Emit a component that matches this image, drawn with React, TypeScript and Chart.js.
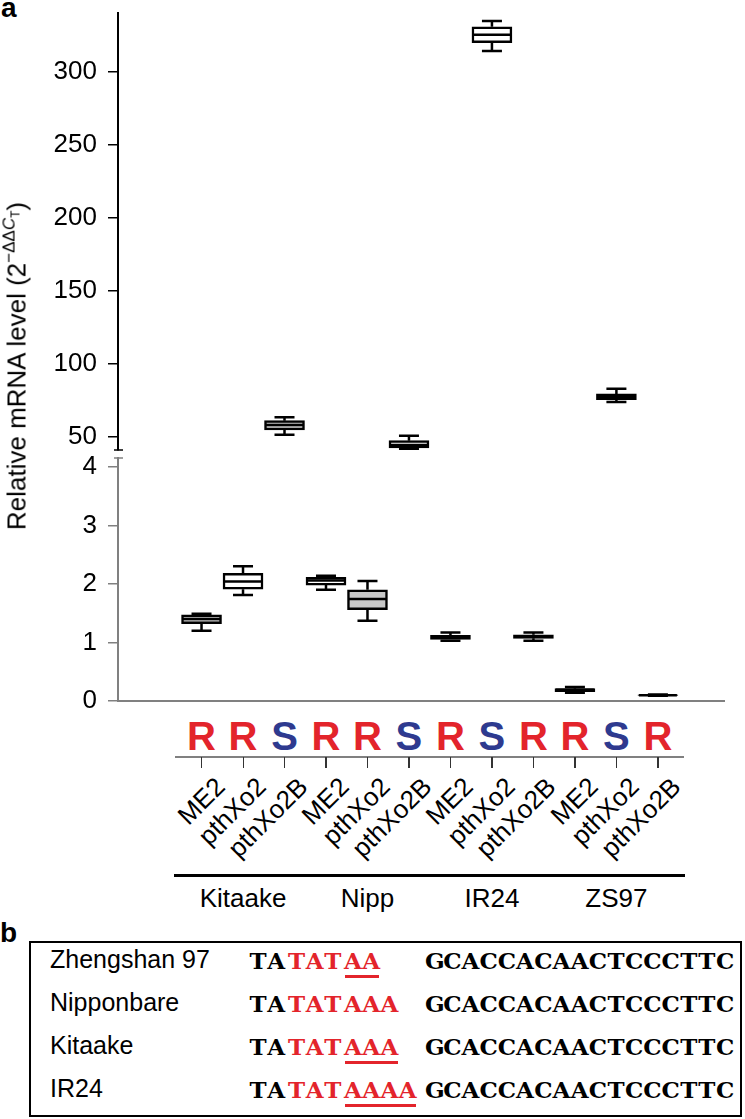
import React, { useEffect, useRef, useState } from "react";
import { Chart, registerables } from "chart.js";

Chart.register(...registerables);

const FONT = '"Liberation Sans", Arial, Helvetica, sans-serif';
const SEQ_FONT = '"DejaVu Serif", "Liberation Serif", serif';

// ---------- data ----------
const cultivars = ["Kitaake", "Nipp", "IR24", "ZS97"];
const categories = [
  "ME2", "pthXo2", "pthXo2B",
  "ME2", "pthXo2", "pthXo2B",
  "ME2", "pthXo2", "pthXo2B",
  "ME2", "pthXo2", "pthXo2B",
];
const phenotype = ["R", "R", "S", "R", "R", "S", "R", "S", "R", "R", "S", "R"];
const whiskerLow = [1.2, 1.81, 51.6, 1.9, 1.37, 41.8, 1.03, 314.4, 1.03, 0.14, 74.0, 0.09];
const q1 = [1.32, 1.91, 54.8, 1.98, 1.56, 42.6, 1.05, 320.0, 1.07, 0.16, 75.5, 0.095];
const median = [1.4, 2.04, 58.2, 2.06, 1.74, 44.5, 1.09, 325.5, 1.1, 0.19, 77.5, 0.1];
const q3 = [1.47, 2.18, 61.2, 2.11, 1.9, 47.5, 1.12, 331.0, 1.13, 0.21, 79.5, 0.105];
const whiskerHigh = [1.49, 2.3, 63.5, 2.14, 2.05, 50.8, 1.17, 335.0, 1.17, 0.24, 83.0, 0.11];
const boxFill = [
  "#c8c8c8", "#ffffff", "#c8c8c8",
  "#ffffff", "#c8c8c8", "#ffffff",
  "#ffffff", "#ffffff", "#ffffff",
  "#ffffff", "#ffffff", "#ffffff",
];
const upperTicks = [50, 100, 150, 200, 250, 300];
const lowerTicks = [0, 1, 2, 3, 4];
const upperRange = [41.1, 340.4];
const lowerRange = [0, 4.15];
const breakValue = 10;

const seqNames = ["Zhengshan 97", "Nipponbare", "Kitaake", "IR24"];
const seqLead = ["TA", "TA", "TA", "TA"];
const seqTata = ["TAT", "TAT", "TAT", "TAT"];
const seqAs = ["AA", "AAA", "AAA", "AAAA"];
const seqUnderlined = [true, false, true, true];
const seqTail = ["GCACCACAACTCCCTTC", "GCACCACAACTCCCTTC", "GCACCACAACTCCCTTC", "GCACCACAACTCCCTTC"];

const RED = "#e3242b";
const BLUE = "#2e3a8f";
const X_MIN = -0.97;
const X_MAX = 11.55;
const CELL = 18.2;

// ---------- plugins ----------
const boxPlugin = {
  id: "boxWhiskers",
  beforeDatasetsDraw(chart: any) {
    const { ctx, scales } = chart;
    const x = scales.x, y = scales.y;
    const pts = chart.data.datasets[0].data as any[];
    ctx.save();
    ctx.beginPath();
    ctx.rect(chart.chartArea.left, chart.chartArea.top, chart.chartArea.right - chart.chartArea.left, chart.chartArea.bottom - chart.chartArea.top);
    ctx.clip();
    ctx.strokeStyle = "#000";
    ctx.lineWidth = 2.5;
    pts.forEach((p) => {
      const i = p.x;
      const px = x.getPixelForValue(i);
      const yHi = y.getPixelForValue(whiskerHigh[i]);
      const yQ3 = y.getPixelForValue(q3[i]);
      const yLo = y.getPixelForValue(whiskerLow[i]);
      const yQ1 = y.getPixelForValue(q1[i]);
      ctx.beginPath();
      ctx.moveTo(px, yQ3); ctx.lineTo(px, yHi);
      ctx.moveTo(px - 10, yHi); ctx.lineTo(px + 10, yHi);
      ctx.moveTo(px, yQ1); ctx.lineTo(px, yLo);
      ctx.moveTo(px - 10, yLo); ctx.lineTo(px + 10, yLo);
      ctx.stroke();
    });
    ctx.restore();
  },
  afterDatasetsDraw(chart: any) {
    const { ctx, scales } = chart;
    const x = scales.x, y = scales.y;
    const pts = chart.data.datasets[0].data as any[];
    ctx.save();
    ctx.strokeStyle = "#000";
    ctx.lineWidth = 2.5;
    pts.forEach((p) => {
      const i = p.x;
      const px = x.getPixelForValue(i);
      const ym = y.getPixelForValue(median[i]);
      ctx.beginPath();
      ctx.moveTo(px - 19, ym); ctx.lineTo(px + 19, ym);
      ctx.stroke();
    });
    const opt = chart.options.plugins.breakMark;
    if (opt) {
      const yy = opt.at === "bottom" ? chart.chartArea.bottom : chart.chartArea.top;
      ctx.strokeStyle = opt.color;
      ctx.lineWidth = 1.5;
      ctx.beginPath();
      ctx.moveTo(chart.chartArea.left - 4, yy);
      ctx.lineTo(chart.chartArea.left + 5, yy);
      ctx.stroke();
    }
    ctx.restore();
  },
};

function makeChart(
  canvas: HTMLCanvasElement,
  idxs: number[],
  range: number[],
  ticks: number[],
  axisColor: string,
  padding: any,
  showX: boolean,
  breakAt: string
) {
  return new Chart(canvas, {
    type: "bar",
    data: {
      datasets: [
        {
          data: idxs.map((i) => ({ x: i, y: [q1[i], q3[i]] })) as any,
          backgroundColor: idxs.map((i) => boxFill[i]),
          borderColor: "#000",
          borderWidth: 2.5,
          borderSkipped: false,
          barThickness: 40,
        } as any,
      ],
    },
    options: {
      responsive: false,
      animation: false,
      layout: { padding },
      events: [],
      plugins: {
        legend: { display: false },
        tooltip: { enabled: false },
        breakMark: { at: breakAt, color: axisColor },
      } as any,
      scales: {
        x: {
          type: "linear",
          min: X_MIN,
          max: X_MAX,
          display: showX,
          grid: { display: false },
          ticks: { display: false },
          border: { display: showX, color: axisColor, width: 2 },
          afterFit: (s: any) => {
            s.height = 0;
            s.paddingLeft = 0;
            s.paddingRight = 0;
          },
        },
        y: {
          type: "linear",
          min: range[0],
          max: range[1],
          afterBuildTicks: (s: any) => {
            s.ticks = ticks.map((v) => ({ value: v }));
          },
          afterFit: (s: any) => {
            s.width = 118;
            s.paddingTop = 0;
            s.paddingBottom = 0;
          },
          ticks: {
            color: "#000",
            font: { family: FONT, size: 26 },
            padding: 11,
            callback: (v: any) => String(v),
          },
          grid: {
            display: true,
            drawOnChartArea: false,
            drawTicks: true,
            tickLength: 10,
            color: axisColor,
            lineWidth: 1.5,
          },
          border: { display: true, color: axisColor, width: 2 },
        },
      },
    } as any,
    plugins: [boxPlugin as any],
  });
}

function topFor(baseline: number, size: number) {
  return baseline - 0.8465 * size;
}

function Cells({ text, color, underline }: { text: string; color: string; underline?: boolean }) {
  return (
    <span style={{ display: "inline-block", position: "relative", color }}>
      {text.split("").map((ch, k) => (
        <span key={k} style={{ display: "inline-block", width: CELL, textAlign: "center" }}>{ch}</span>
      ))}
      {underline && (
        <span style={{ position: "absolute", left: 1, right: 1, bottom: -6, height: 3, background: color }} />
      )}
    </span>
  );
}

export default function App() {
  const topRef = useRef<HTMLCanvasElement>(null);
  const botRef = useRef<HTMLCanvasElement>(null);
  const [xs, setXs] = useState<number[] | null>(null);

  useEffect(() => {
    const all = categories.map((_, i) => i);
    const upper = all.filter((i) => median[i] > breakValue);
    const lower = all.filter((i) => median[i] <= breakValue);
    const top = makeChart(topRef.current!, upper, upperRange, upperTicks, "#000", { top: 13, right: 21, bottom: 10, left: 0 }, false, "bottom");
    const bot = makeChart(botRef.current!, lower, lowerRange, lowerTicks, "#808080", { top: 8, right: 21, bottom: 11, left: 0 }, true, "top");
    setXs(all.map((i) => bot.scales.x.getPixelForValue(i)));
    return () => {
      top.destroy();
      bot.destroy();
    };
  }, []);

  const groupCenters = xs ? cultivars.map((_, g) => xs[g * 3 + 1]) : [];

  return (
    <div style={{ position: "absolute", left: 0, top: 0, width: 745, height: 1119, fontFamily: FONT, color: "#000", background: "#fff", overflow: "hidden" }}>
      <div style={{ position: "absolute", left: 1, top: topFor(18, 28), fontSize: 28, lineHeight: "28px", fontWeight: "bold" }}>a</div>
      <canvas ref={topRef} width={745} height={460} style={{ position: "absolute", left: 0, top: 0 }} />
      <canvas ref={botRef} width={745} height={262} style={{ position: "absolute", left: 0, top: 450 }} />

      <div style={{ position: "absolute", left: 19, top: 366, width: 0, height: 0 }}>
        <div style={{ position: "absolute", left: 0, top: 0, whiteSpace: "nowrap", fontSize: 26, lineHeight: "30px", transform: "translate(-50%, -50%) rotate(-90deg)" }}>
          Relative mRNA level (2
          <span style={{ fontSize: 17, position: "relative", top: -11 }}>
            −ΔΔ<i>C</i>
            <span style={{ fontSize: 12, position: "relative", top: 5 }}>T</span>
          </span>
          )
        </div>
      </div>

      {xs && (
        <>
          {phenotype.map((p, i) => (
            <div key={"p" + i} style={{ position: "absolute", left: xs[i] - 30, width: 60, textAlign: "center", top: topFor(750, 40), fontSize: 40, lineHeight: "40px", fontWeight: "bold", color: p === "R" ? RED : BLUE }}>
              {p}
            </div>
          ))}
          {cultivars.map((c, g) => (
            <div key={"gl" + g} style={{ position: "absolute", left: groupCenters[g] - 68, width: 136, top: 756, height: 2, background: "#808080" }} />
          ))}
          {categories.map((_, i) => (
            <div key={"t" + i} style={{ position: "absolute", left: xs[i] - 0.5, width: 1.2, top: 757, height: 11, background: "#333" }} />
          ))}
          {categories.map((c, i) => (
            <div key={"c" + i} style={{ position: "absolute", left: xs[i] + 18 - 200, width: 200, top: 782 - 15, height: 30, lineHeight: "30px", fontSize: 26, textAlign: "right", whiteSpace: "nowrap", transformOrigin: "100% 50%", transform: "rotate(-45deg)" }}>
              {c}
            </div>
          ))}
          {cultivars.map((c, g) => (
            <div key={"bl" + g} style={{ position: "absolute", left: groupCenters[g] - 69, width: 138, top: 874, height: 3, background: "#000" }} />
          ))}
          {cultivars.map((c, g) => (
            <div key={"gn" + g} style={{ position: "absolute", left: groupCenters[g] - 80, width: 160, textAlign: "center", top: topFor(907, 26), fontSize: 26, lineHeight: "26px" }}>
              {c}
            </div>
          ))}
        </>
      )}

      <div style={{ position: "absolute", left: 0, top: topFor(943, 28), fontSize: 28, lineHeight: "28px", fontWeight: "bold" }}>b</div>
      <div style={{ position: "absolute", left: 29, top: 941, width: 713, height: 176, border: "2px solid #000", boxSizing: "border-box" }} />
      {seqNames.map((n, r) => {
        const base = 968 + r * 43;
        const seqTop = base - 0.846 * 23;
        return (
          <React.Fragment key={"s" + r}>
            <div style={{ position: "absolute", left: 50, top: topFor(base, 25), fontSize: 25, lineHeight: "25px", whiteSpace: "nowrap" }}>{n}</div>
            <div style={{ position: "absolute", left: 249, top: seqTop, fontFamily: SEQ_FONT, fontWeight: "bold", fontSize: 23, lineHeight: "23px", whiteSpace: "nowrap" }}>
              <Cells text={seqLead[r]} color="#000" />
              <span style={{ display: "inline-block", width: 2 }} />
              <Cells text={seqTata[r]} color={RED} />
              <span style={{ display: "inline-block", width: 2 }} />
              <Cells text={seqAs[r]} color={RED} underline={seqUnderlined[r]} />
            </div>
            <div style={{ position: "absolute", left: 425, top: seqTop, fontFamily: SEQ_FONT, fontWeight: "bold", fontSize: 23, lineHeight: "23px", whiteSpace: "nowrap" }}>
              <Cells text={seqTail[r]} color="#000" />
            </div>
          </React.Fragment>
        );
      })}
    </div>
  );
}
